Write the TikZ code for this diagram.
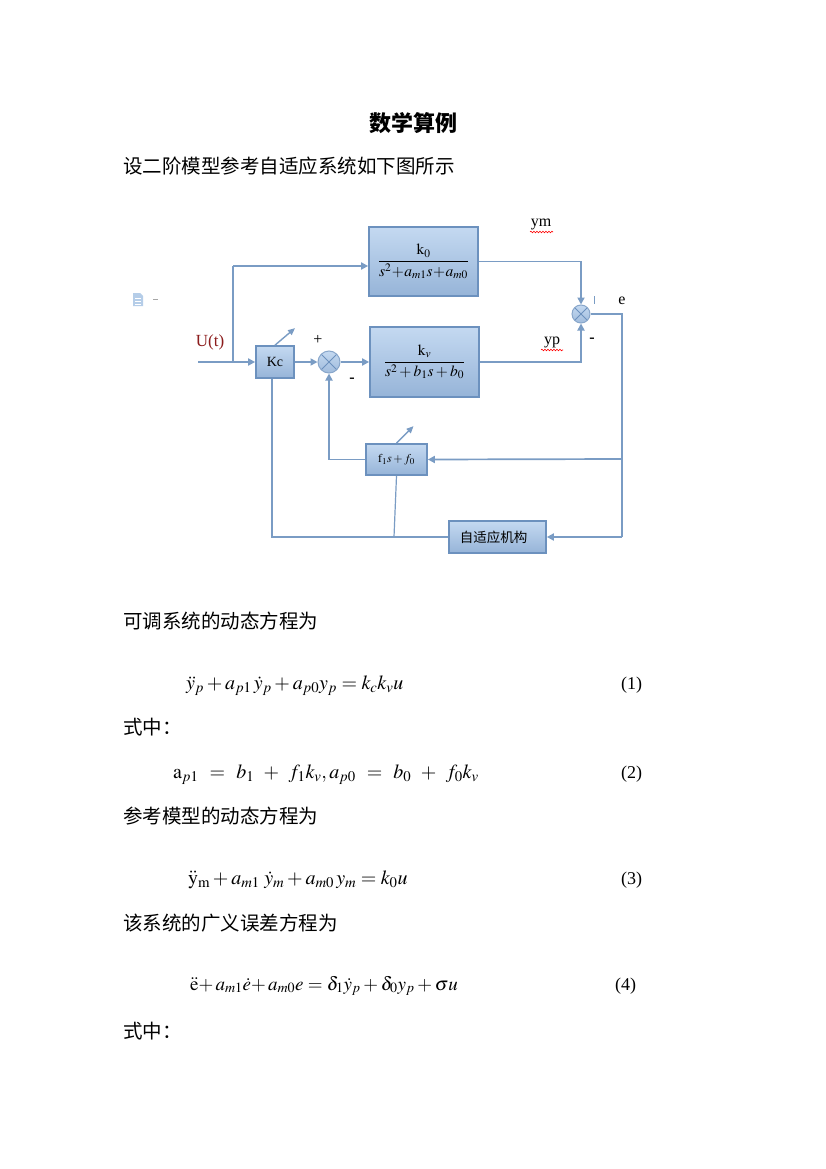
\documentclass[tikz,border=0pt]{standalone}
\usepackage{amsmath}
\usepackage{mathptmx}
\usepackage{fontspec}
\setmainfont{Liberation Serif}
\newfontfamily\cjk{Noto Sans CJK SC}
\usepackage{tikz}
\usetikzlibrary{calc, positioning}
\usetikzlibrary{arrows.meta, decorations.pathmorphing}

\definecolor{lineblue}{RGB}{122,156,196}
\definecolor{boxedge}{RGB}{108,145,190}
\definecolor{boxtop}{RGB}{196,217,241}
\definecolor{boxbot}{RGB}{150,180,216}
\definecolor{utred}{RGB}{140,28,28}

\tikzset{
  blockbox/.style={draw=boxedge, line width=1.7pt, top color=boxtop, bottom color=boxbot, inner sep=0pt},
  sumnode/.style={draw=boxedge!80, line width=1pt, circle, minimum size=22pt, inner sep=0pt,
    top color=boxtop, bottom color=boxbot!90,
    path picture={\draw[boxedge, line width=1pt] (path picture bounding box.north west) -- (path picture bounding box.south east)
      (path picture bounding box.north east) -- (path picture bounding box.south west);}},
  wire/.style={draw=lineblue, line width=1.7pt},
  sig/.style={wire, -{Triangle[length=7pt,width=7pt]}},
  tunearrow/.style={draw=lineblue, line width=1.4pt, -{Triangle[length=7pt,width=6pt]}},
  cjktext/.style={anchor=west, inner sep=0pt, font=\cjk\fontsize{19.5}{22}\selectfont},
  eqtext/.style={anchor=base west, inner sep=0pt, font=\fontsize{20}{24}\selectfont},
  eqnum/.style={anchor=base west, inner sep=0pt, font=\fontsize{18}{22}\selectfont},
  lbl/.style={inner sep=0pt, font=\fontsize{16}{18}\selectfont},
  squiggle/.style={draw=red, line width=0.6pt, decorate, decoration={snake, amplitude=0.8pt, segment length=3pt}}
}

\begin{document}
\begin{tikzpicture}[x=1pt, y=-1pt]
  \useasboundingbox (0,0) rectangle (826,1169);
  \fill[white] (0,0) rectangle (826,1169);

  % headings
  \node (title) [inner sep=0pt, font=\cjk\bfseries\fontsize{22}{24}\selectfont] at (413,123) {数学算例};
  \node (intro) [cjktext] at (123,166) {设二阶模型参考自适应系统如下图所示};

  % paste icon left of the diagram
  \fill[boxtop!80!lineblue] (133,293) -- (140,293) -- (143,296) -- (143,306) -- (133,306) -- cycle;
  \draw[white, line width=0.8pt] (135,298) -- (141,298) (135,301) -- (141,301) (135,304) -- (141,304);
  \draw[gray!70, line width=1pt] (153,299) -- (158,299);

  % blocks
  \node (refm) [blockbox, minimum width=109pt, minimum height=69pt] at (423.5,261.5)
    {\fontsize{15.5}{18}\selectfont$\dfrac{\mathrm{k}_0}{s^2\!+\!a_{m1}s\!+\!a_{m0}}$};
  \node (plant) [blockbox, minimum width=109pt, minimum height=70pt] at (424.5,362)
    {\fontsize{15.5}{18}\selectfont$\dfrac{\mathrm{k}_v}{s^2+b_1s+b_0}$};
  \node (kc) [blockbox, minimum width=38pt, minimum height=32pt, font=\fontsize{14}{16}\selectfont] at (275,362) {Kc};
  \node (sum1) [sumnode] at (329,362) {};
  \node (sum2) [sumnode, minimum size=18pt] at (581,314) {};
  \node (fb) [blockbox, minimum width=61pt, minimum height=31pt, font=\fontsize{12}{14}\selectfont] at (396.5,459.5) {$\mathrm{f}_1s+f_0$};
  \node (adapt) [blockbox, minimum width=97pt, minimum height=32pt, font=\cjk\fontsize{13.5}{16}\selectfont] at (497.5,537) {自适应机构\hspace*{8pt}};

  % junctions
  \coordinate (uin) at (198,362);
  \coordinate (tap) at (233,362);
  \coordinate (tapup) at (233,266);
  \coordinate (eout) at (622,314);
  \coordinate (emid) at (622,459);
  \coordinate (ebot) at (622,537);
  \coordinate (kcbot) at (272,537);
  \coordinate (tune) at (394,537);

  % forward paths
  \draw[sig] (uin) -- (kc.west);
  \draw[wire] (tap) -- (tapup);
  \draw[sig] (tapup) -- (tapup -| refm.west);
  \draw[sig] (kc.east) -- (sum1.west);
  \draw[sig] (sum1.east) -- (plant.west);
  \draw[sig] (refm.east) -| (sum2.north);
  \draw[sig] (plant.east) -| (sum2.south);
  \draw[wire] (sum2.east) -- (eout) -- (ebot);

  % feedback and adaptation
  \draw[sig] (emid) -- (fb.east);
  \draw[sig] (fb.west) -| (sum1.south);
  \draw[sig] (ebot) -- (adapt.east);
  \draw[wire] (kc.south -| kcbot) -- (kcbot) -- (adapt.west);
  \draw[wire, line width=1.2pt] (tune) -- (fb.south);
  \draw[tunearrow] (kc.north) -- ++(20,-17);
  \draw[tunearrow] (fb.north) -- ++(17,-17);

  % signal labels
  \node (ulbl) [lbl, text=utred, font=\fontsize{17}{19}\selectfont] at (210,342) {U(t)};
  \node (plus1) [lbl] at (318,340) {+};
  \node (minus1) [lbl, font=\bfseries\fontsize{16}{18}\selectfont] at (352,380) {-};
  \node (ymlbl) [lbl] at (541,224) {ym};
  \draw[squiggle] (530,232) -- (553,232);
  \node (yplbl) [lbl] at (552,342) {yp};
  \draw[squiggle] (541,350) -- (563,350);
  \node (minus2) [lbl, font=\bfseries\fontsize{16}{18}\selectfont] at (592,340) {-};
  \node (elbl) [lbl] at (622,301) {e};
  \draw[lineblue, line width=0.9pt] (594.5,296) -- (594.5,304);

  % equations
  \node (t1) [cjktext] at (123,621) {可调系统的动态方程为};
  \node (eq1) [eqtext] at (186,689) {$\ddot{y}_p+a_{p1}\,\dot{y}_p+a_{p0}y_p=k_ck_vu$};
  \node (n1) [eqnum] at (621,689) {(1)};
  \node (t2) [cjktext] at (123,727) {式中：};
  \node (eq2) [eqtext] at (173,778)
    {$\mathrm{a}_{p1}\;\,=\;\,b_1\;\,+\;\,f_1k_v,a_{p0}\;\,=\;\,b_0\;\,+\;\,f_0k_v$};
  \node (n2) [eqnum] at (621,778) {(2)};
  \node (t3) [cjktext] at (123,816) {参考模型的动态方程为};
  \node (eq3) [eqtext] at (188,884) {$\ddot{\mathrm{y}}_{\mathrm{m}}+a_{m1}\;\dot{y}_m+a_{m0}\,y_m=k_0u$};
  \node (n3) [eqnum] at (621,884) {(3)};
  \node (t4) [cjktext] at (123,923) {该系统的广义误差方程为};
  \node (eq4) [eqtext, font=\fontsize{19}{24}\selectfont] at (190,990)
    {$\ddot{\mathrm{e}}{+}\,a_{m1}\dot{e}{+}\,a_{m0}e=\delta_1\dot{y}_p+\delta_0y_p+\sigma u$};
  \node (n4) [eqnum] at (615,990) {(4)};
  \node (t5) [cjktext] at (123,1031) {式中：};
\end{tikzpicture}
\end{document}
